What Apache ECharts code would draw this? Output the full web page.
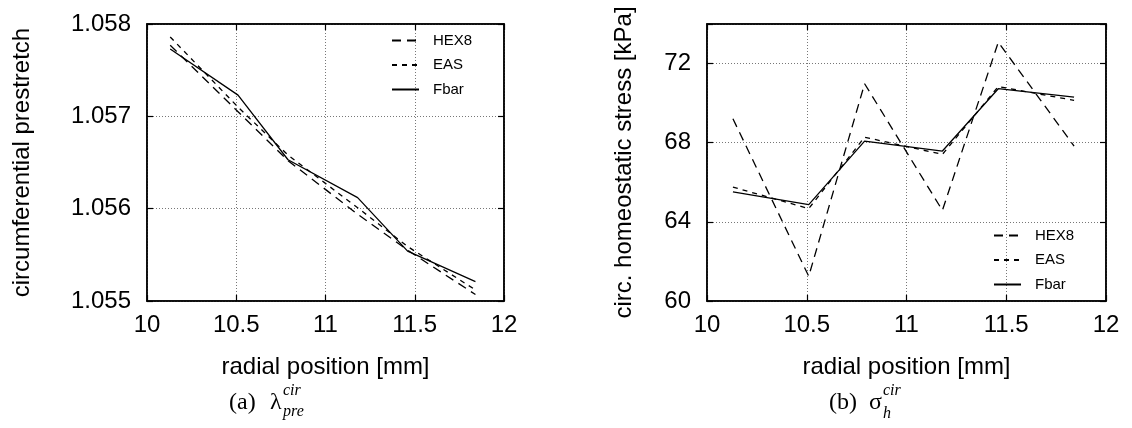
<!DOCTYPE html>
<html>
<head>
<meta charset="utf-8">
<script src="https://cdn.jsdelivr.net/npm/echarts@6/dist/echarts.min.js"></script>
<style>
html,body{margin:0;padding:0;background:#fff;}
#c{width:1132px;height:428px;}
</style>
</head>
<body>
<div id="c"></div>
<script>
// ---- data ----
const radialPos = [10.13, 10.51, 10.79, 11.18, 11.46, 11.84];
const seriesNames = ['HEX8', 'EAS', 'Fbar'];
const prestretchHEX8 = [1.05777, 1.05705, 1.05652, 1.05594, 1.05555, 1.05507];
const prestretchEAS  = [1.05786, 1.05710, 1.05658, 1.05601, 1.05559, 1.05512];
const prestretchFbar = [1.05773, 1.05723, 1.05653, 1.05612, 1.05554, 1.05521];
const stressHEX8 = [69.21, 61.25, 70.98, 64.58, 73.08, 67.83];
const stressEAS  = [65.76, 64.67, 68.28, 67.41, 70.84, 70.14];
const stressFbar = [65.51, 64.87, 68.08, 67.58, 70.73, 70.30];
const xTicks = [10, 10.5, 11, 11.5, 12];
const yTicksLeft = [1.055, 1.056, 1.057, 1.058];
const yTicksRight = [60, 64, 68, 72];

const FONT = "'Liberation Sans', Arial, Helvetica, sans-serif";
const SERIF = "'Liberation Serif', 'Times New Roman', serif";
const chart = echarts.init(document.getElementById('c'));

function pairs(xs, ys) { return xs.map((x, i) => [x, ys[i]]); }
const dashTypes = { HEX8: [9, 6], EAS: [5, 5], Fbar: 'solid' };

function xAxes(gi) {
  const base = {
    gridIndex: gi, type: 'value', min: 10, max: 12, interval: 0.5,
    axisLine: { show: true, lineStyle: { color: '#000', width: 1.5 } },
    axisTick: { show: true, inside: true, length: 6, lineStyle: { color: '#000', width: 1.2 } },
  };
  return [
    Object.assign({}, base, {
      position: 'bottom',
      axisLabel: { fontFamily: FONT, fontSize: 24, color: '#000', margin: 12,
        formatter: v => xTicks.includes(+v.toFixed(1)) ? String(+v.toFixed(1)) : '' },
      splitLine: { show: true, lineStyle: { type: [1, 2], color: '#777', width: 1 } },
      name: 'radial position [mm]', nameLocation: 'middle', nameGap: 54,
      nameTextStyle: { fontFamily: FONT, fontSize: 24, color: '#000' }
    }),
    Object.assign({}, base, {
      position: 'top', axisLabel: { show: false }, splitLine: { show: false }
    })
  ];
}

function yAxes(gi, min, max, interval, ticks, fmt, name, nameGap) {
  const base = {
    gridIndex: gi, type: 'value', min: min, max: max, interval: interval,
    axisLine: { show: true, lineStyle: { color: '#000', width: 1.5 } },
    axisTick: { show: true, inside: true, length: 6, lineStyle: { color: '#000', width: 1.2 } },
  };
  return [
    Object.assign({}, base, {
      position: 'left',
      axisLabel: { fontFamily: FONT, fontSize: 24, color: '#000', margin: 16,
        formatter: v => { const t = ticks.find(k => Math.abs(k - v) < interval * 1e-3); return t === undefined ? '' : fmt(t); } },
      splitLine: { show: true, lineStyle: { type: [1, 2], color: '#777', width: 1 } },
      name: name, nameLocation: 'middle', nameGap: nameGap,
      nameTextStyle: { fontFamily: FONT, fontSize: 24, color: '#000' }
    }),
    Object.assign({}, base, {
      position: 'right', axisLabel: { show: false }, splitLine: { show: false }
    })
  ];
}

const xAxis = xAxes(0).concat(xAxes(1));
const yAxis = yAxes(0, 1.055, 1.058, 0.001, yTicksLeft, t => t.toFixed(3), 'circumferential prestretch', 113)
  .concat(yAxes(1, 60, 74, 4, yTicksRight, t => String(t), 'circ. homeostatic stress [kPa]', 71));

const leftData = { HEX8: prestretchHEX8, EAS: prestretchEAS, Fbar: prestretchFbar };
const rightData = { HEX8: stressHEX8, EAS: stressEAS, Fbar: stressFbar };
const series = [];
seriesNames.forEach(n => {
  series.push({ name: n, type: 'line', xAxisIndex: 0, yAxisIndex: 0, data: pairs(radialPos, leftData[n]),
    symbol: 'none', lineStyle: { color: '#000', width: 1.3, type: dashTypes[n] }, itemStyle: { color: '#000' }, animation: false });
});
seriesNames.forEach(n => {
  series.push({ name: n, type: 'line', xAxisIndex: 2, yAxisIndex: 2, data: pairs(radialPos, rightData[n]),
    symbol: 'none', lineStyle: { color: '#000', width: 1.3, type: dashTypes[n] }, itemStyle: { color: '#000' }, animation: false });
});

const legendBase = {
  data: seriesNames, orient: 'vertical', itemWidth: 27, itemHeight: 14, itemGap: 9.5, padding: 0,
  selectedMode: false,
  itemStyle: { opacity: 0, color: 'transparent', borderWidth: 0 },
  textStyle: { fontFamily: FONT, fontSize: 15, color: '#000', padding: [0, 0, 0, 9] }
};

chart.setOption({
  animation: false,
  backgroundColor: '#fff',
  grid: [
    { left: 147, top: 24, right: 628, bottom: 127, show: true, borderColor: '#000', borderWidth: 1.5, backgroundColor: 'transparent' },
    { left: 707, top: 24, right: 26, bottom: 127, show: true, borderColor: '#000', borderWidth: 1.5, backgroundColor: 'transparent' }
  ],
  legend: [
    Object.assign({}, legendBase, { left: 391, top: 33 }),
    Object.assign({}, legendBase, { left: 993, top: 228 })
  ],
  xAxis: xAxis,
  yAxis: yAxis,
  series: series,
  graphic: [
    { type: 'text', left: 229, top: 391, style: { text: '(a)', font: "24px " + SERIF, fill: '#000' } },
    { type: 'text', left: 270, top: 391, style: { text: 'λ', font: "24px " + SERIF, fill: '#000' } },
    { type: 'text', left: 283, top: 383, style: { text: 'cir', font: "italic 16px " + SERIF, fill: '#000' } },
    { type: 'text', left: 283, top: 404, style: { text: 'pre', font: "italic 16px " + SERIF, fill: '#000' } },
    { type: 'text', left: 829, top: 391, style: { text: '(b)', font: "24px " + SERIF, fill: '#000' } },
    { type: 'text', left: 869, top: 391, style: { text: 'σ', font: "24px " + SERIF, fill: '#000' } },
    { type: 'text', left: 883, top: 383, style: { text: 'cir', font: "italic 16px " + SERIF, fill: '#000' } },
    { type: 'text', left: 883, top: 406, style: { text: 'h', font: "italic 16px " + SERIF, fill: '#000' } }
  ]
});
</script>
</body>
</html>
